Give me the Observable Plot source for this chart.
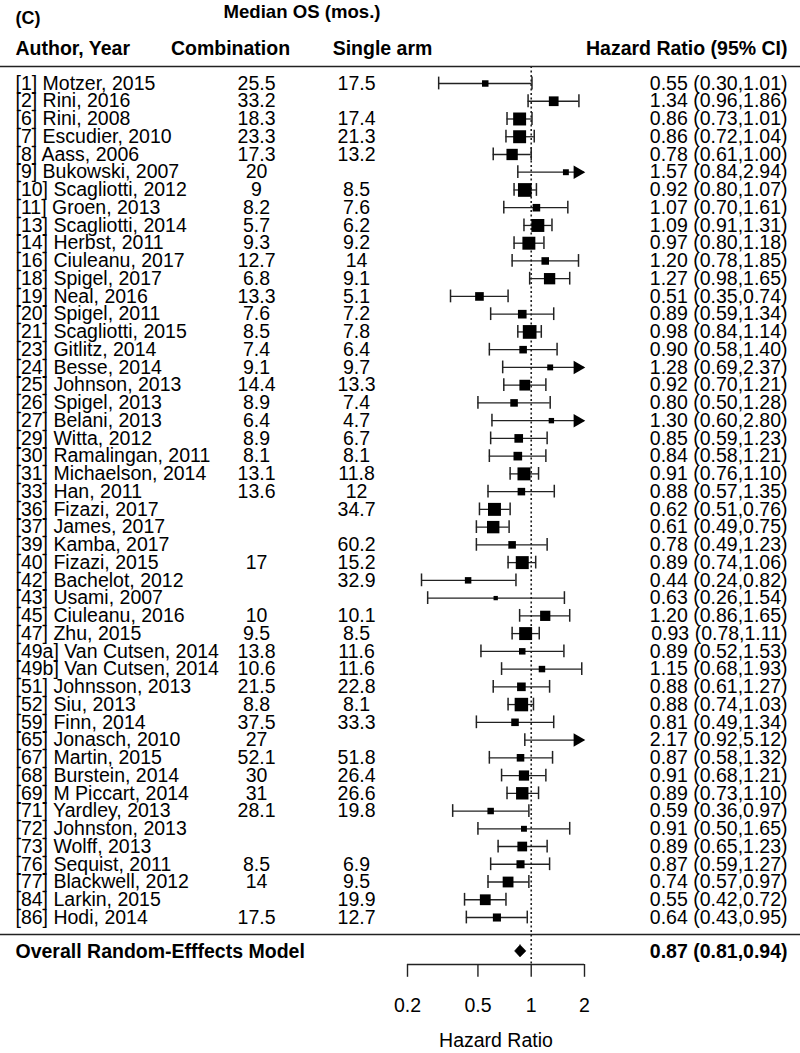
<!DOCTYPE html>
<html><head><meta charset="utf-8">
<script src="https://cdn.jsdelivr.net/npm/d3@7"></script>
<script src="https://cdn.jsdelivr.net/npm/@observablehq/plot@0.6"></script>
<style>body{margin:0;background:#fff}#chart svg{display:block}</style>
</head><body><div id="chart"></div>
<script>
const studies = ["[1] Motzer, 2015","[2] Rini, 2016","[6] Rini, 2008","[7] Escudier, 2010","[8] Aass, 2006","[9] Bukowski, 2007","[10] Scagliotti, 2012","[11] Groen, 2013","[13] Scagliotti, 2014","[14] Herbst, 2011","[16] Ciuleanu, 2017","[18] Spigel, 2017","[19] Neal, 2016","[20] Spigel, 2011","[21] Scagliotti, 2015","[23] Gitlitz, 2014","[24] Besse, 2014","[25] Johnson, 2013","[26] Spigel, 2013","[27] Belani, 2013","[29] Witta, 2012","[30] Ramalingan, 2011","[31] Michaelson, 2014","[33] Han, 2011","[36] Fizazi, 2017","[37] James, 2017","[39] Kamba, 2017","[40] Fizazi, 2015","[42] Bachelot, 2012","[43] Usami, 2007","[45] Ciuleanu, 2016","[47] Zhu, 2015","[49a] Van Cutsen, 2014","[49b] Van Cutsen, 2014","[51] Johnsson, 2013","[52] Siu, 2013","[59] Finn, 2014","[65] Jonasch, 2010","[67] Martin, 2015","[68] Burstein, 2014","[69] M Piccart, 2014","[71] Yardley, 2013","[72] Johnston, 2013","[73] Wolff, 2013","[76] Sequist, 2011","[77] Blackwell, 2012","[84] Larkin, 2015","[86] Hodi, 2014"];
const combination = ["25.5","33.2","18.3","23.3","17.3","20","9","8.2","5.7","9.3","12.7","6.8","13.3","7.6","8.5","7.4","9.1","14.4","8.9","6.4","8.9","8.1","13.1","13.6","","","","17","","","10","9.5","13.8","10.6","21.5","8.8","37.5","27","52.1","30","31","28.1","","","8.5","14","","17.5"];
const singleArm = ["17.5","","17.4","21.3","13.2","","8.5","7.6","6.2","9.2","14","9.1","5.1","7.2","7.8","6.4","9.7","13.3","7.4","4.7","6.7","8.1","11.8","12","34.7","","60.2","15.2","32.9","","10.1","8.5","11.6","11.6","22.8","8.1","33.3","","51.8","26.4","26.6","19.8","","","6.9","9.5","19.9","12.7"];
const hazardRatio = [0.55,1.34,0.86,0.86,0.78,1.57,0.92,1.07,1.09,0.97,1.20,1.27,0.51,0.89,0.98,0.90,1.28,0.92,0.80,1.30,0.85,0.84,0.91,0.88,0.62,0.61,0.78,0.89,0.44,0.63,1.20,0.93,0.89,1.15,0.88,0.88,0.81,2.17,0.87,0.91,0.89,0.59,0.91,0.89,0.87,0.74,0.55,0.64];
const lowerCI = [0.30,0.96,0.73,0.72,0.61,0.84,0.80,0.70,0.91,0.80,0.78,0.98,0.35,0.59,0.84,0.58,0.69,0.70,0.50,0.60,0.59,0.58,0.76,0.57,0.51,0.49,0.49,0.74,0.24,0.26,0.86,0.78,0.52,0.68,0.61,0.74,0.49,0.92,0.58,0.68,0.73,0.36,0.50,0.65,0.59,0.57,0.42,0.43];
const upperCI = [1.01,1.86,1.01,1.04,1.00,2.94,1.07,1.61,1.31,1.18,1.85,1.65,0.74,1.34,1.14,1.40,2.37,1.21,1.28,2.80,1.23,1.21,1.10,1.35,0.76,0.75,1.23,1.06,0.82,1.54,1.65,1.11,1.53,1.93,1.27,1.03,1.34,5.12,1.32,1.21,1.10,0.97,1.65,1.23,1.27,0.97,0.72,0.95];
const weights = [36,81,144,144,110,30,161,49,144,144,49,110,64,64,161,49,30,100,49,25,64,64,144,49,144,132,49,144,36,16,90,144,36,36,64,156,49,25,49,90,132,36,30,81,56,100,100,56];
const overall = {label: "Overall Random-Efffects Model", hr: 0.87, lower: 0.81, upper: 0.94};
const axisTicks = [0.2, 0.5, 1, 2];
const axisMax = 2;

const fmt = v => v.toFixed(2);
const rows = studies.map((s, i) => ({
  row: i + 1, label: s, comb: combination[i], single: singleArm[i],
  hr: hazardRatio[i], lo: lowerCI[i], hi: upperCI[i], w: weights[i],
  ci: `${fmt(hazardRatio[i])} (${fmt(lowerCI[i])},${fmt(upperCI[i])})`
}));

// layout positions in row units
const L = {title: -3.0, panel: -2.66, header: -0.97, headRule: 0.04, overallRule: 48.96,
  overall: 49.91, axis: 50.65, tickEnd: 51.37, tickLabel: 52.96, axisTitle: 54.93};
const capHalf = 0.36, diaHalf = 0.34;
const FF = "Liberation Sans, Arial, Helvetica, sans-serif";
const FS = 19.5;
const ink = "#222";

const diamond = [
  {y: L.overall - diaHalf, x1: overall.hr, x2: overall.hr},
  {y: L.overall, x1: overall.lower, x2: overall.upper},
  {y: L.overall + diaHalf, x1: overall.hr, x2: overall.hr}
];

const txt = (data, o) => Plot.text(data, {fontFamily: FF, fontSize: FS, fill: "black", ...o});

const chart = Plot.plot({
  width: 800, height: 1053,
  marginLeft: 0, marginRight: 0, marginTop: 0, marginBottom: 0,
  x: {type: "log", domain: [0.2, 2], range: [407, 584], axis: null},
  y: {type: "linear", domain: [1, 48], range: [83, 917], axis: null},
  r: {type: "sqrt", domain: [0, 100], range: [0, 10.8 / Math.sqrt(Math.PI)]},
  style: {fontFamily: FF, background: "white"},
  marks: [
    Plot.ruleY([L.headRule, L.overallRule], {stroke: ink, strokeWidth: 1.5}),
    Plot.ruleX([1], {y1: L.headRule, y2: L.axis, stroke: ink, strokeWidth: 1.6, strokeDasharray: "2,2.5"}),
    Plot.ruleY(rows, {y: "row", x1: "lo", x2: d => Math.min(d.hi, axisMax), stroke: ink, strokeWidth: 1.3}),
    Plot.ruleX(rows, {x: "lo", y1: d => d.row - capHalf, y2: d => d.row + capHalf, stroke: ink, strokeWidth: 1.5}),
    Plot.ruleX(rows.filter(d => d.hi <= axisMax), {x: "hi", y1: d => d.row - capHalf, y2: d => d.row + capHalf, stroke: ink, strokeWidth: 1.5}),
    Plot.dot(rows.filter(d => d.hi > axisMax), {x: () => axisMax, y: "row", symbol: "triangle", r: 5, rotate: 90, dx: -7, fill: "black", stroke: "none"}),
    Plot.dot(rows.filter(d => d.hr <= axisMax), {x: "hr", y: "row", r: "w", symbol: "square", fill: "black", stroke: "none"}),
    Plot.areaX(diamond, {y: "y", x1: "x1", x2: "x2", fill: "black", stroke: "black", strokeWidth: 0.5}),
    // columns
    txt(rows, {y: "row", text: "label", frameAnchor: "left", dx: 15, textAnchor: "start"}),
    txt(rows, {y: "row", text: "comb", frameAnchor: "left", dx: 256, textAnchor: "middle"}),
    txt(rows, {y: "row", text: "single", frameAnchor: "left", dx: 356, textAnchor: "middle"}),
    txt(rows, {y: "row", text: "ci", frameAnchor: "right", dx: -13, textAnchor: "end"}),
    // headers
    txt(["(C)"], {y: L.panel, text: d => d, frameAnchor: "left", dx: 15, textAnchor: "start", fontWeight: "bold", fontSize: 18}),
    txt(["Median OS (mos.)"], {y: L.title, text: d => d, frameAnchor: "left", dx: 223, textAnchor: "start", fontWeight: "bold", fontSize: 18.6}),
    txt(["Author, Year"], {y: L.header, text: d => d, frameAnchor: "left", dx: 15, textAnchor: "start", fontWeight: "bold"}),
    txt(["Combination"], {y: L.header, text: d => d, frameAnchor: "left", dx: 230, textAnchor: "middle", fontWeight: "bold"}),
    txt(["Single arm"], {y: L.header, text: d => d, frameAnchor: "left", dx: 382, textAnchor: "middle", fontWeight: "bold"}),
    txt(["Hazard Ratio (95% CI)"], {y: L.header, text: d => d, frameAnchor: "right", dx: -13, textAnchor: "end", fontWeight: "bold"}),
    // overall
    txt([overall], {y: L.overall, text: "label", frameAnchor: "left", dx: 15, textAnchor: "start", fontWeight: "bold"}),
    txt([overall], {y: L.overall, text: d => `${fmt(d.hr)} (${fmt(d.lower)},${fmt(d.upper)})`, frameAnchor: "right", dx: -13, textAnchor: "end", fontWeight: "bold"}),
    // axis
    Plot.ruleY([L.axis], {x1: axisTicks[0], x2: axisTicks[axisTicks.length - 1], stroke: ink, strokeWidth: 1.4}),
    Plot.ruleX(axisTicks, {x: d => d, y1: L.axis, y2: L.tickEnd, stroke: ink, strokeWidth: 1.4}),
    txt(axisTicks, {x: d => d, y: L.tickLabel, text: d => String(d), textAnchor: "middle"}),
    txt(["Hazard Ratio"], {x: () => Math.sqrt(axisTicks[0] * axisTicks[axisTicks.length - 1]), y: L.axisTitle, text: d => d, textAnchor: "middle"})
  ]
});
document.getElementById("chart").appendChild(chart);
</script></body></html>
